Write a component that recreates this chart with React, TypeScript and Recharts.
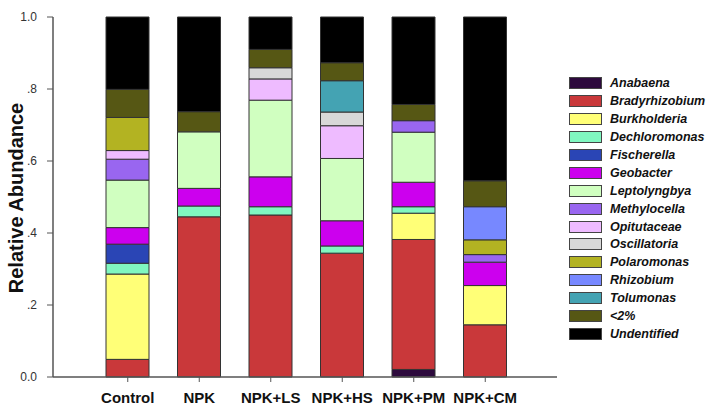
import React from 'react';
import { BarChart, Bar, XAxis, YAxis, Label } from 'recharts';

const categories = ['Control', 'NPK', 'NPK+LS', 'NPK+HS', 'NPK+PM', 'NPK+CM'];
const anabaena = [0, 0, 0, 0, 0.021, 0];
const bradyrhizobium = [0.049, 0.445, 0.45, 0.344, 0.361, 0.145];
const burkholderia = [0.237, 0, 0, 0, 0.073, 0.109];
const dechloromonas = [0.03, 0.03, 0.023, 0.02, 0.018, 0];
const fischerella = [0.053, 0, 0, 0, 0, 0];
const geobacter = [0.046, 0.049, 0.083, 0.07, 0.068, 0.065];
const leptolyngbya = [0.132, 0.157, 0.213, 0.173, 0.139, 0];
const methylocella = [0.058, 0, 0, 0, 0.032, 0.021];
const opitutaceae = [0.024, 0, 0.059, 0.091, 0, 0];
const oscillatoria = [0, 0, 0.031, 0.038, 0, 0];
const polaromonas = [0.092, 0, 0, 0, 0, 0.041];
const rhizobium = [0, 0, 0, 0, 0, 0.092];
const tolumonas = [0, 0, 0, 0.087, 0, 0];
const lessThan2 = [0.078, 0.056, 0.051, 0.05, 0.045, 0.072];
const undentified = [0.201, 0.263, 0.09, 0.127, 0.243, 0.455];

const yTicks = [0, 0.2, 0.4, 0.6, 0.8, 1.0];

const series = [
  { key: 'Anabaena', values: anabaena, color: '#2d0a3d' },
  { key: 'Bradyrhizobium', values: bradyrhizobium, color: '#c9383a' },
  { key: 'Burkholderia', values: burkholderia, color: '#ffff77' },
  { key: 'Dechloromonas', values: dechloromonas, color: '#80f7c0' },
  { key: 'Fischerella', values: fischerella, color: '#2a45b5' },
  { key: 'Geobacter', values: geobacter, color: '#cc00ee' },
  { key: 'Leptolyngbya', values: leptolyngbya, color: '#d0ffc0' },
  { key: 'Methylocella', values: methylocella, color: '#9966f0' },
  { key: 'Opitutaceae', values: opitutaceae, color: '#eebbff' },
  { key: 'Oscillatoria', values: oscillatoria, color: '#d8d8d8' },
  { key: 'Polaromonas', values: polaromonas, color: '#b3b322' },
  { key: 'Rhizobium', values: rhizobium, color: '#7788ff' },
  { key: 'Tolumonas', values: tolumonas, color: '#44a3b3' },
  { key: '<2%', values: lessThan2, color: '#565714' },
  { key: 'Undentified', values: undentified, color: '#000000' },
];

const data = categories.map((name, i) => {
  const row: Record<string, number | string> = { name };
  series.forEach((s) => {
    row[s.key] = s.values[i];
  });
  return row;
});

const font = '"Liberation Sans", Arial, sans-serif';

const fmtY = (v: number) => {
  if (v === 0) return '0.0';
  if (v === 1) return '1.0';
  return '.' + Math.round(v * 10);
};

export default function App() {
  return (
    <div style={{ position: 'absolute', left: 0, top: 0, width: 718, height: 406, background: '#fff', fontFamily: font }}>
      <BarChart
        width={718}
        height={406}
        data={data}
        margin={{ top: 17, right: 161, bottom: 0, left: 8 }}
        barSize={43}
      >
        <XAxis
          dataKey="name"
          height={29}
          padding={{ left: 39, right: 36 }}
          axisLine={{ stroke: '#555', strokeWidth: 1.5 }}
          tickLine={{ stroke: '#555' }}
          tickSize={5}
          tickMargin={10}
          tick={{ fill: '#111', fontSize: 15, fontWeight: 'bold', fontFamily: font }}
          interval={0}
        />
        <XAxis xAxisId="top" dataKey="name" orientation="top" height={0} tick={false} tickLine={false} axisLine={{ stroke: '#555', strokeWidth: 1.5 }} />
        <YAxis
          width={45}
          domain={[0, 1]}
          ticks={yTicks}
          tickFormatter={fmtY}
          axisLine={{ stroke: '#555', strokeWidth: 1.5 }}
          tickLine={{ stroke: '#555' }}
          tickSize={6}
          tickMargin={10}
          tick={{ fill: '#333', fontSize: 12, fontFamily: font }}
        >
          <Label
            content={() => (
              <text
                x={16}
                y={198}
                transform="rotate(-90 16 198)"
                textAnchor="middle"
                dominantBaseline="central"
                fontSize={20}
                fontWeight="bold"
                fontFamily={font}
                fill="#111"
              >
                Relative Abundance
              </text>
            )}
          />
        </YAxis>
        <YAxis yAxisId="right" orientation="right" width={0} domain={[0, 1]} tick={false} tickLine={false} axisLine={{ stroke: '#555', strokeWidth: 1.5 }} />
        {series.map((s) => (
          <Bar
            key={s.key}
            dataKey={s.key}
            stackId="a"
            fill={s.color}
            stroke="#333"
            strokeWidth={1}
            isAnimationActive={false}
          />
        ))}
      </BarChart>
      <div style={{ position: 'absolute', left: 569, top: 74.5 }}>
        {series.map((s) => (
          <div key={s.key} style={{ display: 'flex', alignItems: 'center', height: 17.9 }}>
            <div style={{ width: 31, height: 10, background: s.color, border: '1px solid #444', boxSizing: 'content-box' }} />
            <span style={{ marginLeft: 8, fontSize: 12.5, fontWeight: 'bold', fontStyle: 'italic', color: '#111', fontFamily: font, whiteSpace: 'nowrap' }}>
              {s.key}
            </span>
          </div>
        ))}
      </div>
    </div>
  );
}
